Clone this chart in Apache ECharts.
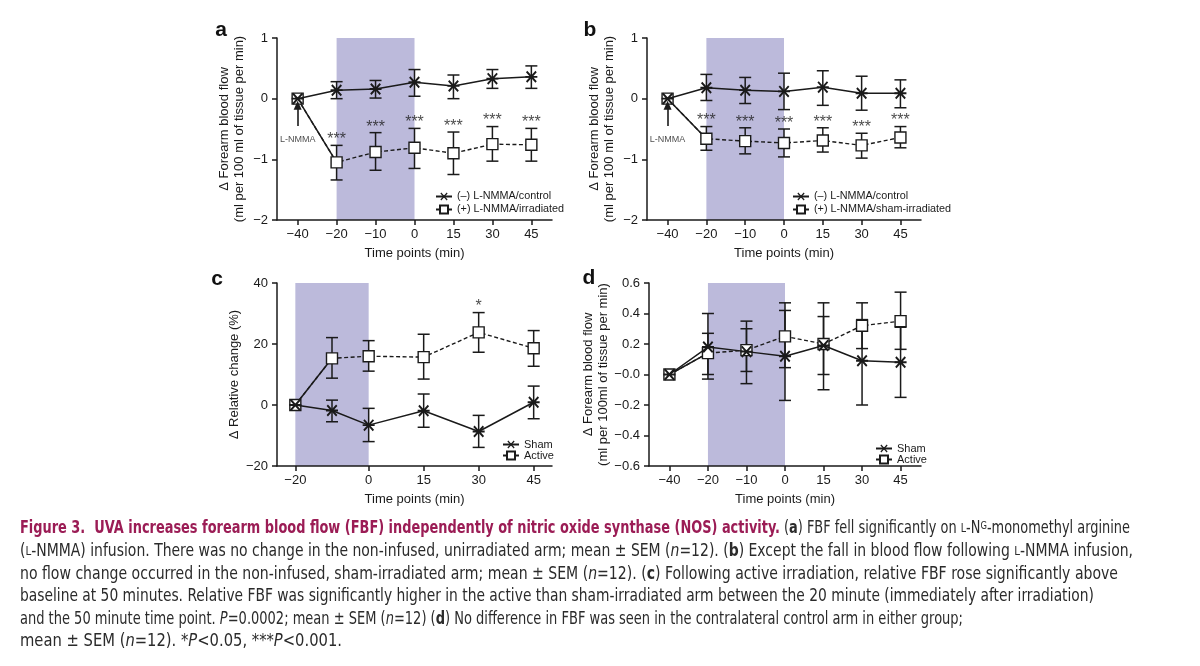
<!DOCTYPE html>
<html><head><meta charset="utf-8">
<script src="https://cdn.jsdelivr.net/npm/echarts@6/dist/echarts.min.js"></script>
<style>html,body{margin:0;background:#fff}#c{width:1200px;height:666px}</style>
</head><body><div id="c"></div>
<script>
// ---------- data ----------
const timeLabels = ['−40', '−20', '−10', '0', '15', '30', '45'];
const cTimes = [-20, -10, 0, 15, 30, 45];
const cTickValues = [-20, 0, 15, 30, 45];

// panel a
const aControlMean = [0, 0.14, 0.16, 0.27, 0.21, 0.33, 0.36];
const aControlLow  = [null, 0.00, 0.01, 0.04, 0.00, 0.17, 0.17];
const aControlHigh = [null, 0.28, 0.30, 0.48, 0.39, 0.48, 0.54];
const aIrrMean = [0, -1.05, -0.88, -0.81, -0.90, -0.75, -0.76];
const aIrrLow  = [null, -1.34, -1.18, -1.15, -1.25, -1.03, -1.03];
const aIrrHigh = [null, -0.77, -0.56, -0.49, -0.55, -0.46, -0.49];
const aSig = ['', '***', '***', '***', '***', '***', '***'];

// panel b
const bControlMean = [0, 0.18, 0.14, 0.12, 0.19, 0.09, 0.09];
const bControlLow  = [null, -0.03, -0.08, -0.18, -0.11, -0.19, -0.15];
const bControlHigh = [null, 0.40, 0.35, 0.42, 0.46, 0.37, 0.31];
const bShamMean = [0, -0.66, -0.70, -0.73, -0.69, -0.77, -0.64];
const bShamLow  = [null, -0.85, -0.91, -0.96, -0.88, -0.98, -0.81];
const bShamHigh = [null, -0.46, -0.48, -0.50, -0.48, -0.57, -0.46];
const bSig = ['', '***', '***', '***', '***', '***', '***'];

// panel c
const cShamMean = [0, -1.8, -6.6, -1.9, -8.7, 0.9];
const cShamLow  = [null, -5.5, -12.0, -7.3, -13.9, -4.5];
const cShamHigh = [null, 1.6, -1.1, 3.6, -3.4, 6.2];
const cActiveMean = [0, 15.3, 16.0, 15.7, 23.8, 18.6];
const cActiveLow  = [null, 8.8, 11.1, 8.5, 17.3, 12.7];
const cActiveHigh = [null, 22.1, 21.1, 23.2, 30.3, 24.4];
const cSig = ['', '', '', '', '*', ''];

// panel d
const dShamMean = [0, 0.18, 0.15, 0.12, 0.19, 0.09, 0.08];
const dShamLow  = [null, -0.03, -0.06, -0.17, 0.00, -0.20, -0.15];
const dShamHigh = [null, 0.40, 0.35, 0.42, 0.38, 0.36, 0.31];
const dActiveMean = [0, 0.14, 0.16, 0.25, 0.20, 0.32, 0.35];
const dActiveLow  = [null, 0.00, 0.02, 0.045, -0.10, 0.17, 0.165];
const dActiveHigh = [null, 0.27, 0.30, 0.47, 0.47, 0.47, 0.54];

// annotation (data units)
const nmmaArrowFrom = -0.45, nmmaArrowTo = -0.11, nmmaLabelY = -0.68;
const nmmaLabel = 'L-NMMA';

// ---------- styling ----------
const FONT = '"Liberation Sans", Arial, Helvetica, sans-serif';
const CAP = '"Liberation Sans Narrow", "DejaVu Sans Condensed", Lato, sans-serif';
const INK = '#1a1a1a';
const SHADE = '#bcbadb';
const XSYM = 'path://M0,4.3L10,4.3L10,5.7L0,5.7Z M0.5,1.6L1.6,0.5L9.5,8.4L8.4,9.5Z M8.4,0.5L9.5,1.6L1.6,9.5L0.5,8.4Z';

const catIdx = timeLabels.map((_, i) => i);
const minus = s => String(s).replace('-', '−');

function errSeries(g, xs, lo, hi) {
  return {
    type: 'custom', xAxisIndex: g, yAxisIndex: g, z: 2, silent: true,
    data: xs.map((x, i) => lo[i] == null ? null : [x, lo[i], hi[i]]).filter(Boolean),
    renderItem(params, api) {
      const x = api.value(0);
      const p1 = api.coord([x, api.value(2)]);
      const p2 = api.coord([x, api.value(1)]);
      const w = 6, st = { stroke: INK, lineWidth: 1.5 };
      return { type: 'group', children: [
        { type: 'line', shape: { x1: p1[0], y1: p1[1], x2: p2[0], y2: p2[1] }, style: st },
        { type: 'line', shape: { x1: p1[0] - w, y1: p1[1], x2: p1[0] + w, y2: p1[1] }, style: st },
        { type: 'line', shape: { x1: p2[0] - w, y1: p2[1], x2: p2[0] + w, y2: p2[1] }, style: st }
      ] };
    }
  };
}
function xLine(g, name, xs, ys) {
  return { type: 'line', name, xAxisIndex: g, yAxisIndex: g, z: 4, silent: true,
    data: xs.map((x, i) => [x, ys[i]]), symbol: XSYM, symbolSize: 12,
    itemStyle: { color: INK }, lineStyle: { color: INK, width: 1.5 } };
}
function sqLines(g, name, xs, ys) {
  return [
    { type: 'line', xAxisIndex: g, yAxisIndex: g, z: 3, silent: true, symbol: 'none',
      data: xs.slice(0, 2).map((x, i) => [x, ys[i]]), lineStyle: { color: INK, width: 1.5 } },
    { type: 'line', name, xAxisIndex: g, yAxisIndex: g, z: 3, silent: true,
      data: xs.map((x, i) => [x, ys[i]]), symbol: 'rect', symbolSize: 11,
      itemStyle: { color: '#fff', borderColor: INK, borderWidth: 1.4 },
      lineStyle: { color: INK, width: 1.4, type: [4, 2.5] } }
  ];
}
function sigSeries(g, xs, hi, sig, fs) {
  return { type: 'scatter', xAxisIndex: g, yAxisIndex: g, z: 5, silent: true, symbolSize: 1,
    itemStyle: { color: 'rgba(0,0,0,0)' },
    data: xs.map((x, i) => sig[i] ? { value: [x, hi[i]], sig: sig[i] } : null).filter(Boolean),
    label: { show: true, position: 'top', distance: -3, color: INK, fontSize: fs, fontFamily: FONT,
      formatter: p => p.data.sig } };
}
function shadeSeries(g, from, to, arrow) {
  const s = { type: 'line', xAxisIndex: g, yAxisIndex: g, z: 1, silent: true, symbol: 'none',
    data: [[from, 0]], lineStyle: { opacity: 0 },
    markArea: { silent: true, itemStyle: { color: SHADE, opacity: 1 }, data: [[{ xAxis: from }, { xAxis: to }]] } };
  if (arrow) {
    s.markLine = { silent: true, symbol: ['none', 'triangle'], symbolSize: [8, 9], symbolRotate: 0,
      label: { show: false }, emphasis: { disabled: true },
      lineStyle: { color: INK, width: 1.6, type: 'solid', opacity: 1 },
      itemStyle: { color: INK, opacity: 1 },
      data: [[{ coord: [0, nmmaArrowFrom] }, { coord: [0, nmmaArrowTo] }]] };
  }
  return s;
}
function nmmaText(g) {
  return { type: 'scatter', xAxisIndex: g, yAxisIndex: g, z: 5, silent: true, symbolSize: 1,
    itemStyle: { color: 'rgba(0,0,0,0)' }, data: [[0, nmmaLabelY]],
    label: { show: true, position: 'inside', color: INK, fontSize: 9, fontFamily: FONT, formatter: nmmaLabel } };
}

const grids = [
  { left: 277, top: 38, width: 275, height: 182 },
  { left: 647, top: 38, width: 274, height: 182 },
  { left: 277, top: 283, width: 275, height: 183 },
  { left: 649, top: 283, width: 272, height: 183 }
];

const axisLine = { onZero: false, lineStyle: { color: INK, width: 1.5 } };
const axisTick = { lineStyle: { color: INK, width: 1.5 }, length: 5 };
const labelStyle = { color: INK, fontSize: 13, fontFamily: FONT };

function catX(g) {
  return { type: 'value', gridIndex: g, min: -0.53, max: 6.53, z: 10,
    axisLine, splitLine: { show: false },
    axisTick: Object.assign({ customValues: catIdx }, axisTick),
    axisLabel: Object.assign({ customValues: catIdx, margin: 8, formatter: v => timeLabels[Math.round(v)] }, labelStyle),
    name: 'Time points (min)', nameLocation: 'middle', nameGap: 27,
    nameTextStyle: { color: INK, fontSize: 13, fontFamily: FONT } };
}
const xAxes = [catX(0), catX(1),
  { type: 'value', gridIndex: 2, min: -25, max: 50, z: 10, axisLine, splitLine: { show: false },
    axisTick: Object.assign({ customValues: cTickValues }, axisTick),
    axisLabel: Object.assign({ customValues: cTickValues, margin: 8, formatter: v => minus(v) }, labelStyle),
    name: 'Time points (min)', nameLocation: 'middle', nameGap: 27,
    nameTextStyle: { color: INK, fontSize: 13, fontFamily: FONT } },
  catX(3)];

function yAx(g, min, max, interval, fmt, name, gap) {
  return { type: 'value', gridIndex: g, min, max, interval, z: 10, axisLine: Object.assign({ show: true }, axisLine),
    axisTick: Object.assign({ show: true }, axisTick), splitLine: { show: false },
    axisLabel: Object.assign({ margin: 9, formatter: fmt }, labelStyle),
    name, nameLocation: 'middle', nameGap: gap,
    nameTextStyle: { color: INK, fontSize: 13, fontFamily: FONT, lineHeight: 15 } };
}
const yAxes = [
  yAx(0, -2, 1, 1, v => minus(v), 'Δ Forearm blood flow\n(ml per 100 ml of tissue per min)', 30),
  yAx(1, -2, 1, 1, v => minus(v), 'Δ Forearm blood flow\n(ml per 100 ml of tissue per min)', 30),
  yAx(2, -20, 40, 20, v => minus(v), 'Δ Relative change (%)', 33),
  yAx(3, -0.6, 0.6, 0.2, v => Math.abs(v) < 1e-9 ? '−0.0' : minus(v.toFixed(1)),
      'Δ Forearm blood flow\n(ml per 100ml of tissue per min)', 33)
];

const series = [
  shadeSeries(0, 1, 3, true),
  errSeries(0, catIdx, aIrrLow, aIrrHigh), errSeries(0, catIdx, aControlLow, aControlHigh),
  ...sqLines(0, '(+) L-NMMA/irradiated', catIdx, aIrrMean),
  xLine(0, '(–) L-NMMA/control', catIdx, aControlMean),
  sigSeries(0, catIdx, aIrrHigh, aSig, 16), nmmaText(0),

  shadeSeries(1, 1, 3, true),
  errSeries(1, catIdx, bShamLow, bShamHigh), errSeries(1, catIdx, bControlLow, bControlHigh),
  ...sqLines(1, '(+) L-NMMA/sham-irradiated', catIdx, bShamMean),
  xLine(1, '(–) L-NMMA/control', catIdx, bControlMean),
  sigSeries(1, catIdx, bShamHigh, bSig, 16), nmmaText(1),

  shadeSeries(2, -20, 0, false),
  errSeries(2, cTimes, cActiveLow, cActiveHigh), errSeries(2, cTimes, cShamLow, cShamHigh),
  ...sqLines(2, 'Active', cTimes, cActiveMean),
  xLine(2, 'Sham', cTimes, cShamMean),
  sigSeries(2, cTimes, cActiveHigh, cSig, 16),

  shadeSeries(3, 1, 3, false),
  errSeries(3, catIdx, dActiveLow, dActiveHigh), errSeries(3, catIdx, dShamLow, dShamHigh),
  ...sqLines(3, 'Active', catIdx, dActiveMean),
  xLine(3, 'Sham', catIdx, dShamMean)
];

function leg(left, top, names, fs, gap) {
  return { left, top, orient: 'vertical', itemWidth: 16, itemHeight: 10, itemGap: gap, padding: 0,
    selectedMode: false, data: names, textStyle: { color: INK, fontSize: fs, fontFamily: FONT } };
}
const legends = [
  leg(435, 191, ['(–) L-NMMA/control', '(+) L-NMMA/irradiated'], 10.8, 2),
  leg(792, 191, ['(–) L-NMMA/control', '(+) L-NMMA/sham-irradiated'], 10.8, 2),
  leg(502, 439, ['Sham', 'Active'], 11, 0),
  leg(875, 443, ['Sham', 'Active'], 11, 0)
];

// ---------- caption ----------
const captionLines = [
  [['Figure 3.  UVA increases forearm blood flow (FBF) independently of nitric oxide synthase (NOS) activity.', 't'], [' (', 'r'], ['a', 'b'], [') FBF fell significantly on ', 'r'], ['L', 'sc'], ['-N', 'r'], ['G', 'sup'], ['-monomethyl arginine', 'r']],
  [['(', 'r'], ['L', 'sc'], ['-NMMA) infusion. There was no change in the non-infused, unirradiated arm; mean ± SEM (', 'r'], ['n', 'i'], ['=12). (', 'r'], ['b', 'b'], [') Except the fall in blood flow following ', 'r'], ['L', 'sc'], ['-NMMA infusion,', 'r']],
  [['no flow change occurred in the non-infused, sham-irradiated arm; mean ± SEM (', 'r'], ['n', 'i'], ['=12). (', 'r'], ['c', 'b'], [') Following active irradiation, relative FBF rose significantly above', 'r']],
  [['baseline at 50 minutes. Relative FBF was significantly higher in the active than sham-irradiated arm between the 20 minute (immediately after irradiation)', 'r']],
  [['and the 50 minute time point. ', 'r'], ['P', 'i'], ['=0.0002; mean ± SEM (', 'r'], ['n', 'i'], ['=12) (', 'r'], ['d', 'b'], [') No difference in FBF was seen in the contralateral control arm in either group;', 'r']],
  [['mean ± SEM (', 'r'], ['n', 'i'], ['=12). *', 'r'], ['P', 'i'], ['<0.05, ***', 'r'], ['P', 'i'], ['<0.001.', 'r']]
];
const captionY = [529, 552, 575, 597, 620, 642];
const captionRight = [1130, 1133, 1118, 1094, 963, 342];
const CS = 17, BODY = '#2b2b2b';
const rich = {
  t: { fill: '#9b1c55', fontWeight: 'bold', fontSize: CS, fontFamily: CAP },
  r: { fill: BODY, fontSize: CS, fontFamily: CAP },
  b: { fill: BODY, fontWeight: 'bold', fontSize: CS, fontFamily: CAP },
  i: { fill: BODY, fontStyle: 'italic', fontSize: CS, fontFamily: CAP },
  sc: { fill: BODY, fontSize: 12.5, fontFamily: CAP },
  sup: { fill: BODY, fontSize: 11, fontFamily: CAP, verticalAlign: 'top' }
};
const mctx = document.createElement('canvas').getContext('2d');
function measure(frags) {
  let w = 0;
  frags.forEach(([t, k]) => {
    const s = rich[k];
    mctx.font = (s.fontStyle || 'normal') + ' ' + (s.fontWeight || 'normal') + ' ' + s.fontSize + 'px ' + CAP;
    w += mctx.measureText(t).width;
  });
  return w;
}
const graphics = captionLines.map((frags, li) => ({
  type: 'text', x: 20, y: captionY[li], silent: true,
  scaleX: (captionRight[li] - 20) / measure(frags),
  style: { text: frags.map(([t, k]) => '{' + k + '|' + t + '}').join(''), rich,
    font: CS + 'px ' + CAP, fill: BODY, align: 'left', verticalAlign: 'middle' }
}));
[['a', 221, 41], ['b', 590, 41], ['c', 217, 290], ['d', 589, 289]].forEach(([t, x, y]) => {
  graphics.push({ type: 'text', x, y, silent: true,
    style: { text: t, fill: '#111', font: 'bold 21px ' + FONT, align: 'center', verticalAlign: 'bottom' } });
});

const chart = echarts.init(document.getElementById('c'));
chart.setOption({
  animation: false, backgroundColor: '#fff',
  grid: grids, xAxis: xAxes, yAxis: yAxes, legend: legends, series, graphic: graphics
});
</script></body></html>
